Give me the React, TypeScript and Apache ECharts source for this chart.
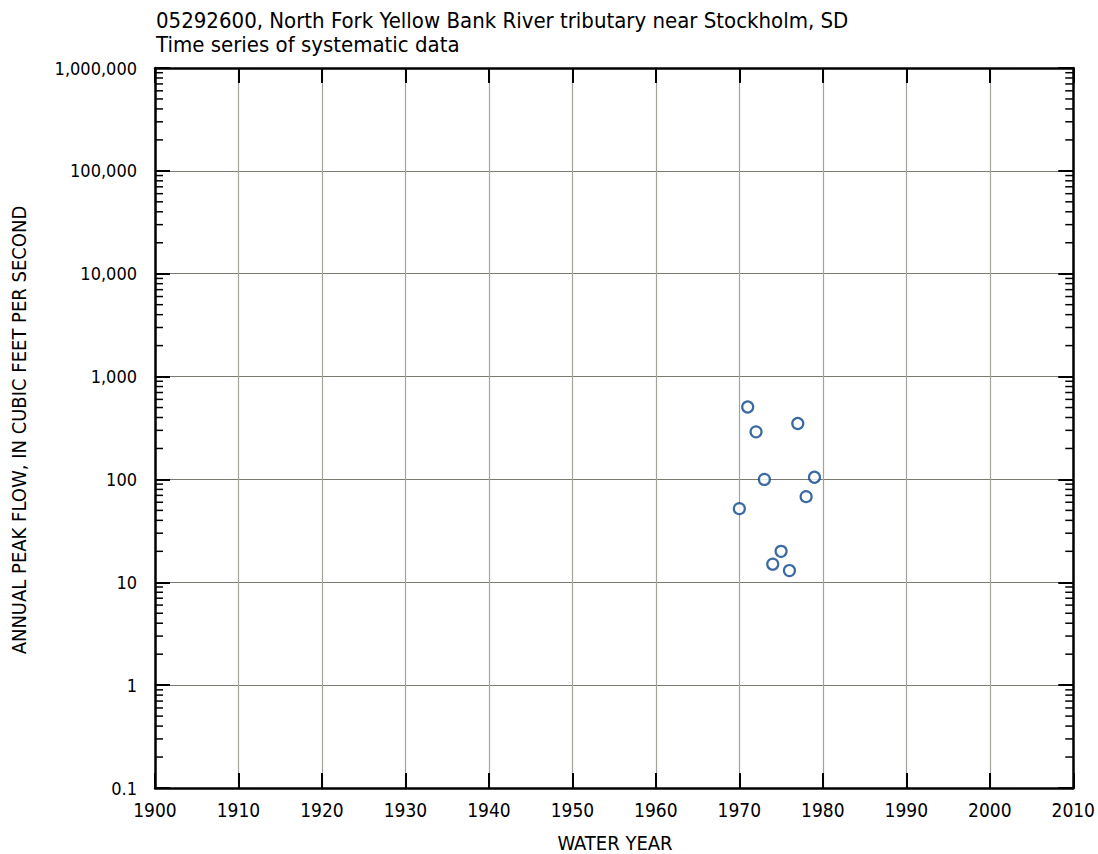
import React, { useEffect, useRef } from "react";
import * as echarts from "echarts";

const years = [1970, 1971, 1972, 1973, 1974, 1975, 1976, 1977, 1978, 1979];
const peakFlows = [52, 506, 290, 100, 15, 20, 13, 350, 68, 105];
const titleLines = [
  "05292600, North Fork Yellow Bank River tributary near Stockholm, SD",
  "Time series of systematic data",
];
const xName = "WATER YEAR";
const yName = "ANNUAL PEAK FLOW, IN CUBIC FEET PER SECOND";
const decades = [0.1, 1, 10, 100, 1000, 10000, 100000];
const minorMultipliers = [2, 3, 4, 5, 6, 7, 8, 9];

const FONT = "'Liberation Sans Narrow', 'DejaVu Sans Condensed', 'Roboto Condensed', Arial, sans-serif";

export default function App() {
  const ref = useRef<HTMLDivElement>(null);
  useEffect(() => {
    document.body.style.margin = "0";
    const chart = echarts.init(ref.current!, null, { renderer: "svg" });
    const minorData: number[][] = [];
    decades.forEach((d) => {
      minorMultipliers.forEach((m) => {
        minorData.push([0, d * m]);
        minorData.push([1, d * m]);
      });
    });
    const fmt = (v: number) => {
      const n = Number(v.toPrecision(6));
      return n >= 1 ? n.toLocaleString("en-US") : String(n);
    };
    const yCommon = {
      type: "log" as const,
      logBase: 10,
      min: 0.1,
      max: 1000000,
      axisLine: { show: true, lineStyle: { color: "#000", width: 2.5 } },
      axisTick: { show: true, inside: true, length: 15, lineStyle: { color: "#000", width: 2 } },
      minorTick: { show: false },
    };
    const xCommon = {
      type: "value" as const,
      min: 1900,
      max: 2010,
      interval: 10,
      axisLine: { show: true, onZero: false, lineStyle: { color: "#000", width: 2.5 } },
      axisTick: { show: true, inside: true, length: 15, lineStyle: { color: "#000", width: 2 } },
    };
    chart.setOption({
      animation: false,
      backgroundColor: "#fff",
      grid: { left: 155, right: 22, top: 68, bottom: 66, containLabel: false },
      xAxis: [
        {
          ...xCommon,
          position: "bottom",
          axisLabel: {
            color: "#000",
            fontSize: 19,
            fontFamily: FONT,
            margin: 12,
            formatter: (v: number) => String(v),
          },
          splitLine: { show: true, lineStyle: { color: "#a3a39b", width: 1.2 } },
        },
        {
          ...xCommon,
          position: "top",
          axisLabel: { show: false },
          splitLine: { show: false },
        },
      ],
      yAxis: [
        {
          ...yCommon,
          position: "left",
          axisLabel: { color: "#000", fontSize: 18, fontFamily: FONT, margin: 18, formatter: fmt },
          splitLine: { show: true, lineStyle: { color: "#7a7a70", width: 1.2 } },
        },
        {
          ...yCommon,
          position: "right",
          axisLabel: { show: false },
          splitLine: { show: false },
        },
      ],
      graphic: [
        {
          type: "text",
          left: 156,
          top: 8,
          style: {
            text: titleLines.join("\n"),
            font: `22px ${FONT}`,
            lineHeight: 24,
            fill: "#000",
          },
        },
        {
          type: "text",
          x: 615,
          y: 843,
          style: {
            text: xName,
            font: `20px ${FONT}`,
            fill: "#000",
            align: "center",
            verticalAlign: "middle",
          },
        },
        {
          type: "text",
          x: 19,
          y: 430,
          rotation: Math.PI / 2,
          style: {
            text: yName,
            font: `20px ${FONT}`,
            fill: "#000",
            align: "center",
            verticalAlign: "middle",
          },
        },
      ],
      series: [
        {
          type: "custom",
          xAxisIndex: 0,
          yAxisIndex: 0,
          clip: false,
          silent: true,
          data: minorData,
          renderItem: (params: any, api: any) => {
            const side = api.value(0);
            const v = api.value(1);
            const p = api.coord([side === 0 ? 1900 : 2010, v]);
            const dx = side === 0 ? 8 : -8;
            return {
              type: "line",
              shape: { x1: p[0], y1: p[1], x2: p[0] + dx, y2: p[1] },
              style: { stroke: "#000", lineWidth: 1.5 },
            };
          },
          z: 3,
        },
        {
          type: "scatter",
          xAxisIndex: 0,
          yAxisIndex: 0,
          data: years.map((y, i) => [y, peakFlows[i]]),
          symbol: "circle",
          symbolSize: 11,
          itemStyle: { color: "#fff", borderColor: "#08458c", borderWidth: 2.2 },
          z: 5,
        },
      ],
    });
    return () => chart.dispose();
  }, []);
  return <div ref={ref} style={{ width: 1098, height: 854 }} />;
}
